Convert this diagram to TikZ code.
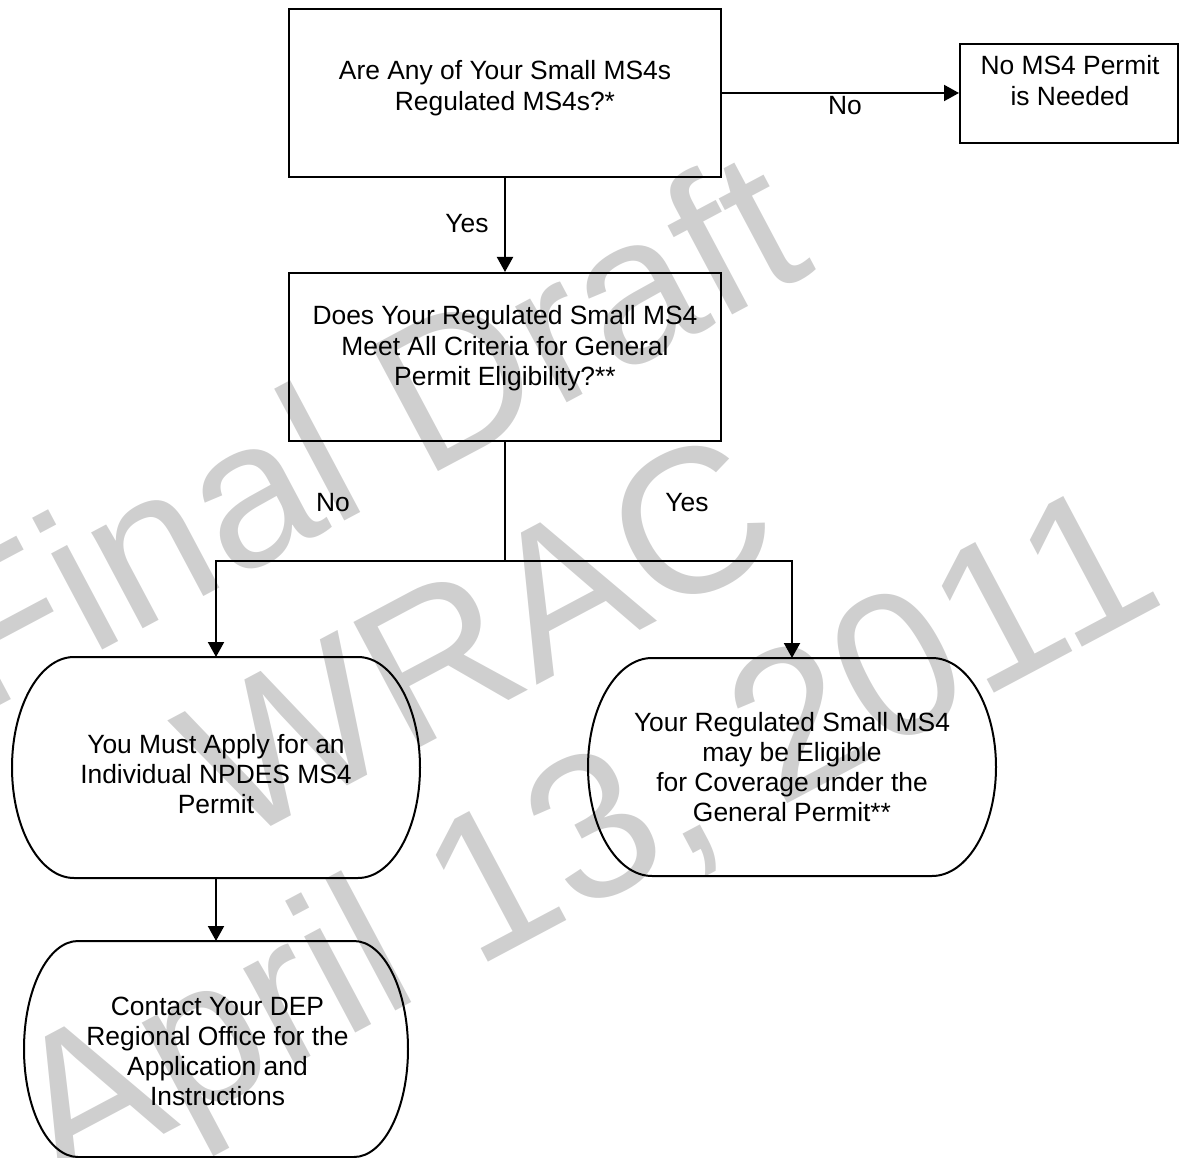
\documentclass[tikz,border=0pt]{standalone}
\usepackage{fontspec}
\setmainfont{Liberation Sans}
\usetikzlibrary{arrows.meta}
\definecolor{wmgray}{RGB}{207,207,207}
\newcommand{\mlines}[1]{\begin{tabular}[t]{@{}c@{}}#1\end{tabular}}
\begin{document}
\begin{tikzpicture}[x=1pt,y=-1pt,
  line width=2pt,
  box/.style={draw, rectangle, inner sep=0pt},
  frame/.style={rectangle, inner sep=0pt, outer sep=0pt},
  txt/.style={inner sep=0pt, anchor=base, font=\fontsize{26.4}{30.3}\selectfont},
  lbl/.style={inner sep=0pt, anchor=base, font=\fontsize{26.4}{30.3}\selectfont},
  wm/.style={inner sep=0pt, text=wmgray, font=\fontsize{206}{237}\selectfont, rotate=28},
  arr/.style={-{Triangle[length=15pt,width=16pt]}},
]
\useasboundingbox (0,0) rectangle (1186,1158);

% watermark
\node[wm] (wm1) at (364,428) {Final Draft};
\node[wm] (wm2) at (478,636) {WRAC};
\node[wm] (wm3) at (590,848) {April 13, 2011};

% boxes
\node[box, minimum width=432pt, minimum height=168pt] (q1) at (505,93) {};
\node[box, minimum width=218pt, minimum height=99pt] (np) at (1069,93.5) {};
\node[box, minimum width=432pt, minimum height=168pt] (q2) at (505,357) {};

% rounded terminals (frames used for anchors)
\node[frame, minimum width=408pt, minimum height=221pt] (ind) at (216,767.5) {};
\node[frame, minimum width=408pt, minimum height=218pt] (gen) at (792,767) {};
\node[frame, minimum width=384pt, minimum height=216pt] (con) at (216,1049) {};

\draw ([xshift=62pt]ind.north west) -- ([xshift=-62pt]ind.north east)
  arc[start angle=90, end angle=-90, x radius=62pt, y radius=110.5pt]
  -- ([xshift=62pt]ind.south west)
  arc[start angle=270, end angle=90, x radius=62pt, y radius=110.5pt] -- cycle;
\draw ([xshift=64pt]gen.north west) -- ([xshift=-64pt]gen.north east)
  arc[start angle=90, end angle=-90, x radius=64pt, y radius=109pt]
  -- ([xshift=64pt]gen.south west)
  arc[start angle=270, end angle=90, x radius=64pt, y radius=109pt] -- cycle;
\draw ([xshift=54pt]con.north west) -- ([xshift=-54pt]con.north east)
  arc[start angle=90, end angle=-90, x radius=54pt, y radius=108pt]
  -- ([xshift=54pt]con.south west)
  arc[start angle=270, end angle=90, x radius=54pt, y radius=108pt] -- cycle;

% texts
\node[txt] (t1) at (505,80) {\mlines{Are Any of Your Small MS4s\\Regulated MS4s?*}};
\node[txt] (t2) at (1070,75) {\mlines{No MS4 Permit\\is Needed}};
\node[txt] (t3) at (505,325) {\mlines{Does Your Regulated Small MS4\\Meet All Criteria for General\\Permit Eligibility?**}};
\node[txt] (t4) at (216,753) {\mlines{You Must Apply for an\\Individual NPDES MS4\\Permit}};
\node[txt] (t5) at (792,731) {\mlines{Your Regulated Small MS4\\may be Eligible\\for Coverage under the\\General Permit**}};
\node[txt] (t6) at (217.5,1015) {\mlines{Contact Your DEP\\Regional Office for the\\Application and\\Instructions}};

% connectors
\coordinate (split) at (505,561);
\draw[arr] (q1.east) -- (np.west |- q1.east);
\draw[arr] (q1.south) -- (q2.north);
\draw (q2.south) -- (split);
\draw[arr] (split) -| (ind.north);
\draw[arr] (split) -| (gen.north);
\draw[arr] (ind.south) -- (con.north);

% labels
\node[lbl] (lno1) at (845,115) {No};
\node[lbl] (lyes1) at (467,233) {Yes};
\node[lbl] (lno2) at (333,511) {No};
\node[lbl] (lyes2) at (687,511) {Yes};
\end{tikzpicture}
\end{document}
